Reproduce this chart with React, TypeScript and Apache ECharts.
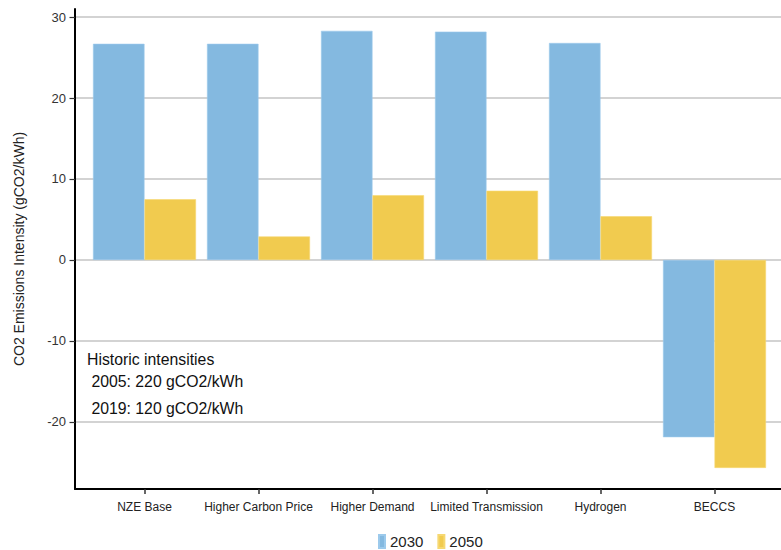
import React, { useEffect, useRef } from "react";
import * as echarts from "echarts";

const categories = [
  "NZE Base",
  "Higher Carbon Price",
  "Higher Demand",
  "Limited Transmission",
  "Hydrogen",
  "BECCS",
];
const values2030 = [26.7, 26.7, 28.3, 28.2, 26.8, -21.9];
const values2050 = [7.5, 2.9, 8.0, 8.55, 5.4, -25.7];
const seriesNames = ["2030", "2050"];
const annotationLines = [
  "Historic intensities",
  " 2005: 220 gCO2/kWh",
  " 2019: 120 gCO2/kWh",
];
const annotationY = [359, 381.5, 408];
const yTitle = "CO2 Emissions Intensity (gCO2/kWh)";

const Y_MIN = -28.3;
const Y_MAX = 31;
const FONT = "Liberation Sans, Arial, sans-serif";

export default function App() {
  const ref = useRef<HTMLDivElement>(null);
  useEffect(() => {
    if (!ref.current) return;
    const chart = echarts.init(ref.current, null, { renderer: "svg" });
    chart.setOption({
      animation: false,
      backgroundColor: "#ffffff",
      textStyle: { fontFamily: FONT },
      grid: [
        { left: 75, right: 0, top: 9, bottom: 61 },
        { left: 87.5, right: 9.5, top: 9, bottom: 61 },
      ],
      xAxis: [
        {
          gridIndex: 0,
          type: "value",
          min: 0,
          max: 1,
          axisLine: { show: true, onZero: false, lineStyle: { color: "#000", width: 2 } },
          axisTick: { show: false },
          axisLabel: { show: false },
          splitLine: { show: false },
        },
        {
          gridIndex: 1,
          type: "category",
          data: categories,
          axisLine: { show: false, onZero: false },
          axisTick: {
            show: true,
            alignWithLabel: true,
            length: 5,
            lineStyle: { color: "#333", width: 1.5 },
          },
          axisLabel: {
            fontSize: 12,
            color: "#222",
            margin: 12,
            fontFamily: FONT,
            interval: 0,
          },
        },
      ],
      yAxis: [
        {
          gridIndex: 0,
          type: "value",
          min: Y_MIN,
          max: Y_MAX,
          splitNumber: 5,
          axisLine: { show: true, onZero: false, lineStyle: { color: "#000", width: 2 } },
          axisTick: { show: true, length: 5.5, lineStyle: { color: "#333", width: 1.2 } },
          axisLabel: {
            fontSize: 13,
            color: "#333",
            margin: 9,
            fontFamily: FONT,
            showMinLabel: false,
            showMaxLabel: false,
          },
          splitLine: {
            show: true,
            showMinLine: false,
            showMaxLine: false,
            lineStyle: { color: "#c4c4c4", width: 1.5 },
          },
          name: yTitle,
          nameLocation: "middle",
          nameRotate: 90,
          nameGap: 49,
          nameTextStyle: { fontSize: 14, color: "#222", fontFamily: FONT },
        },
        {
          gridIndex: 1,
          type: "value",
          min: Y_MIN,
          max: Y_MAX,
          show: false,
          splitLine: { show: false },
        },
      ],
      legend: {
        data: seriesNames,
        left: 378,
        top: 534,
        padding: 0,
        icon: "rect",
        itemWidth: 6,
        itemHeight: 13,
        itemGap: 14,
        textStyle: { fontSize: 15, lineHeight: 15, color: "#222", fontFamily: FONT },
      },
      series: [
        {
          name: seriesNames[0],
          type: "bar",
          xAxisIndex: 1,
          yAxisIndex: 1,
          data: values2030,
          barWidth: 51.5,
          barGap: 0,
          itemStyle: { color: "#84B9E0", borderColor: "#9ccaec", borderWidth: 0.6 },
        },
        {
          name: seriesNames[1],
          type: "bar",
          xAxisIndex: 1,
          yAxisIndex: 1,
          data: values2050,
          barWidth: 51.5,
          barGap: 0,
          itemStyle: { color: "#F1CB4F", borderColor: "#f6d872", borderWidth: 0.6 },
        },
      ],
      graphic: annotationLines.map((t, i) => ({
        type: "text",
        x: 87,
        y: annotationY[i],
        style: {
          text: t,
          fontSize: 15.8,
          fill: "#111",
          fontFamily: FONT,
          verticalAlign: "middle",
        },
      })),
    });
    return () => chart.dispose();
  }, []);
  return (
    <div
      ref={ref}
      style={{ position: "absolute", left: 0, top: 0, width: 781, height: 550 }}
    />
  );
}
